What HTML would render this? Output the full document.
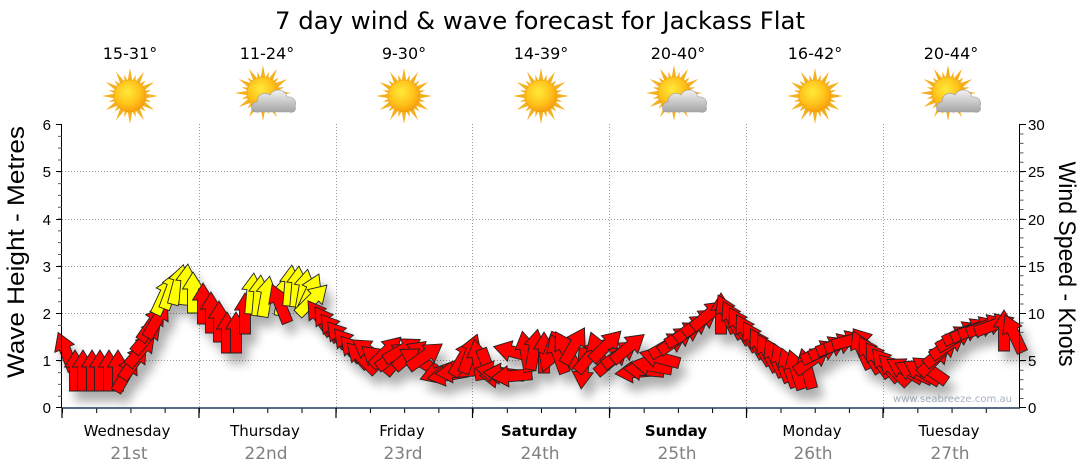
<!DOCTYPE html>
<html><head><meta charset="utf-8"><style>
html,body{margin:0;padding:0;background:#fff;}
svg{display:block;}
.r{fill:#ff0000;}
.y{fill:#ffff00;}
</style></head><body>
<svg width="1080" height="475" viewBox="0 0 1080 475" xmlns="http://www.w3.org/2000/svg">
<defs>
<path id="a" d="M0,-21 L10.5,-4 L5.5,-4 L5.5,20 L-5.5,20 L-5.5,-4 L-10.5,-4 Z"/>
<radialGradient id="sb" cx="0.42" cy="0.38" r="0.65">
<stop offset="0" stop-color="#ffea3a"/><stop offset="0.6" stop-color="#ffc21a"/><stop offset="1" stop-color="#f59a0a"/>
</radialGradient>
<linearGradient id="cg" x1="0" y1="0" x2="0" y2="1">
<stop offset="0" stop-color="#f2f2f2"/><stop offset="1" stop-color="#a4a4a4"/>
</linearGradient>
<g id="rays" fill="#f5b020">
<path d="M-2.6,-14 L0,-28 L2.6,-14 Z"/>
<path d="M-2.6,-14 L0,-28 L2.6,-14 Z" transform="rotate(30)"/>
<path d="M-2.6,-14 L0,-28 L2.6,-14 Z" transform="rotate(60)"/>
<path d="M-2.6,-14 L0,-28 L2.6,-14 Z" transform="rotate(90)"/>
<path d="M-2.6,-14 L0,-28 L2.6,-14 Z" transform="rotate(120)"/>
<path d="M-2.6,-14 L0,-28 L2.6,-14 Z" transform="rotate(150)"/>
<path d="M-2.6,-14 L0,-28 L2.6,-14 Z" transform="rotate(180)"/>
<path d="M-2.6,-14 L0,-28 L2.6,-14 Z" transform="rotate(210)"/>
<path d="M-2.6,-14 L0,-28 L2.6,-14 Z" transform="rotate(240)"/>
<path d="M-2.6,-14 L0,-28 L2.6,-14 Z" transform="rotate(270)"/>
<path d="M-2.6,-14 L0,-28 L2.6,-14 Z" transform="rotate(300)"/>
<path d="M-2.6,-14 L0,-28 L2.6,-14 Z" transform="rotate(330)"/>
<path d="M-2,-14 L0,-22 L2,-14 Z" transform="rotate(15)"/>
<path d="M-2,-14 L0,-22 L2,-14 Z" transform="rotate(45)"/>
<path d="M-2,-14 L0,-22 L2,-14 Z" transform="rotate(75)"/>
<path d="M-2,-14 L0,-22 L2,-14 Z" transform="rotate(105)"/>
<path d="M-2,-14 L0,-22 L2,-14 Z" transform="rotate(135)"/>
<path d="M-2,-14 L0,-22 L2,-14 Z" transform="rotate(165)"/>
<path d="M-2,-14 L0,-22 L2,-14 Z" transform="rotate(195)"/>
<path d="M-2,-14 L0,-22 L2,-14 Z" transform="rotate(225)"/>
<path d="M-2,-14 L0,-22 L2,-14 Z" transform="rotate(255)"/>
<path d="M-2,-14 L0,-22 L2,-14 Z" transform="rotate(285)"/>
<path d="M-2,-14 L0,-22 L2,-14 Z" transform="rotate(315)"/>
<path d="M-2,-14 L0,-22 L2,-14 Z" transform="rotate(345)"/>
</g>
<g id="sun">
<use href="#rays"/>
<circle r="16" fill="url(#sb)" stroke="#f0a010" stroke-width="0.6"/>
</g>
<g id="cloud" fill="url(#cg)">
<path d="M-12,15 C-17,15 -17,5 -10,5 C-10,-3 -2,-6 3,-2 C6,-9 18,-9 20,0 C27,-1 30,5 28,9 C30,14 26,16 22,15 Z" stroke="#9a9a9a" stroke-width="0.6"/>
</g>
<filter id="sh" filterUnits="userSpaceOnUse" x="0" y="200" width="1080" height="275">
<feGaussianBlur in="SourceAlpha" stdDeviation="5"/>
<feOffset dx="6" dy="10"/>
<feComponentTransfer><feFuncA type="linear" slope="0.32"/></feComponentTransfer>
<feMerge><feMergeNode/><feMergeNode in="SourceGraphic"/></feMerge>
</filter>
</defs>

<!-- Title -->
<text x="540" y="29" text-anchor="middle" font-family="DejaVu Sans, sans-serif" font-size="24" fill="#000" textLength="530" lengthAdjust="spacingAndGlyphs">7 day wind &amp; wave forecast for Jackass Flat</text>

<!-- Temps -->
<g font-family="DejaVu Sans, sans-serif" font-size="16" fill="#000" text-anchor="middle">
<text x="130" y="59">15-31°</text>
<text x="267" y="59">11-24°</text>
<text x="404" y="59">9-30°</text>
<text x="541" y="59">14-39°</text>
<text x="678" y="59">20-40°</text>
<text x="815" y="59">16-42°</text>
<text x="951" y="59">20-44°</text>
</g>

<!-- Icons -->
<use href="#sun" transform="translate(130 96)"/>
<use href="#sun" transform="translate(263 93)"/>
<use href="#cloud" transform="translate(267 97)"/>
<use href="#sun" transform="translate(404 96)"/>
<use href="#sun" transform="translate(541 96)"/>
<use href="#sun" transform="translate(674 93)"/>
<use href="#cloud" transform="translate(678 97)"/>
<use href="#sun" transform="translate(815 96)"/>
<use href="#sun" transform="translate(948 93)"/>
<use href="#cloud" transform="translate(952 97)"/>

<!-- Grid -->
<g stroke="#9a9a9a" stroke-width="1" stroke-dasharray="1,2">
<line x1="62" y1="360.5" x2="1019" y2="360.5"/>
<line x1="62" y1="313.5" x2="1019" y2="313.5"/>
<line x1="62" y1="266.5" x2="1019" y2="266.5"/>
<line x1="62" y1="219.5" x2="1019" y2="219.5"/>
<line x1="62" y1="171.5" x2="1019" y2="171.5"/>
<line x1="199.5" y1="124" x2="199.5" y2="407"/>
<line x1="336.5" y1="124" x2="336.5" y2="407"/>
<line x1="472.5" y1="124" x2="472.5" y2="407"/>
<line x1="609.5" y1="124" x2="609.5" y2="407"/>
<line x1="746.5" y1="124" x2="746.5" y2="407"/>
<line x1="883.5" y1="124" x2="883.5" y2="407"/>
</g>

<!-- Watermark -->
<text x="893" y="402" font-family="DejaVu Sans, sans-serif" font-size="10" fill="#a8b0c0" textLength="119" lengthAdjust="spacingAndGlyphs">www.seabreeze.com.au</text>

<!-- Arrows -->
<g filter="url(#sh)" stroke="#222" stroke-width="0.9" stroke-linejoin="miter">
<use href="#a" class="r" transform="translate(66 352) rotate(-22)"/>
<use href="#a" class="r" transform="translate(75 371) rotate(0)"/>
<use href="#a" class="r" transform="translate(83 371) rotate(0)"/>
<use href="#a" class="r" transform="translate(92 371) rotate(0)"/>
<use href="#a" class="r" transform="translate(100 371) rotate(0)"/>
<use href="#a" class="r" transform="translate(109 371) rotate(0)"/>
<use href="#a" class="r" transform="translate(118 371) rotate(0)"/>
<use href="#a" class="r" transform="translate(126 374) rotate(30)"/>
<use href="#a" class="r" transform="translate(134 362) rotate(35)"/>
<use href="#a" class="r" transform="translate(141 350) rotate(40)"/>
<use href="#a" class="r" transform="translate(147 337) rotate(40)"/>
<use href="#a" class="r" transform="translate(152 324) rotate(35)"/>
<use href="#a" class="r" transform="translate(157 320) rotate(30)"/>
<use href="#a" class="y" transform="translate(164 296) rotate(25)"/>
<use href="#a" class="y" transform="translate(171 290) rotate(20)"/>
<use href="#a" class="y" transform="translate(178 285) rotate(15)"/>
<use href="#a" class="y" transform="translate(186 285) rotate(5)"/>
<use href="#a" class="y" transform="translate(193 293) rotate(0)"/>
<use href="#a" class="r" transform="translate(203 304) rotate(0)"/>
<use href="#a" class="r" transform="translate(211 313) rotate(0)"/>
<use href="#a" class="r" transform="translate(219 322) rotate(0)"/>
<use href="#a" class="r" transform="translate(227 333) rotate(0)"/>
<use href="#a" class="r" transform="translate(236 333) rotate(0)"/>
<use href="#a" class="r" transform="translate(245 314) rotate(0)"/>
<use href="#a" class="y" transform="translate(252 294) rotate(5)"/>
<use href="#a" class="y" transform="translate(259 296) rotate(5)"/>
<use href="#a" class="y" transform="translate(266 297) rotate(10)"/>
<use href="#a" class="y" transform="translate(283 296) rotate(10)"/>
<use href="#a" class="r" transform="translate(280 304) rotate(-22)"/>
<use href="#a" class="y" transform="translate(290 286) rotate(5)"/>
<use href="#a" class="y" transform="translate(297 287) rotate(5)"/>
<use href="#a" class="y" transform="translate(304 290) rotate(10)"/>
<use href="#a" class="y" transform="translate(310 293) rotate(25)"/>
<use href="#a" class="y" transform="translate(312 300) rotate(45)"/>
<use href="#a" class="r" transform="translate(320 318) rotate(-35)"/>
<use href="#a" class="r" transform="translate(327 324) rotate(-35)"/>
<use href="#a" class="r" transform="translate(334 331) rotate(-38)"/>
<use href="#a" class="r" transform="translate(341 338) rotate(-40)"/>
<use href="#a" class="r" transform="translate(348 345) rotate(-40)"/>
<use href="#a" class="r" transform="translate(355 352) rotate(-42)"/>
<use href="#a" class="r" transform="translate(362 358) rotate(-45)"/>
<!-- Friday -->
<use href="#a" class="r" transform="translate(370 352) rotate(-55)"/>
<use href="#a" class="r" transform="translate(378 360) rotate(-50)"/>
<use href="#a" class="r" transform="translate(386 352) rotate(45)"/>
<use href="#a" class="r" transform="translate(394 356) rotate(55)"/>
<use href="#a" class="r" transform="translate(402 350) rotate(60)"/>
<use href="#a" class="r" transform="translate(410 355) rotate(50)"/>
<use href="#a" class="r" transform="translate(418 360) rotate(-60)"/>
<use href="#a" class="r" transform="translate(425 356) rotate(55)"/>
<use href="#a" class="r" transform="translate(440 372) rotate(-110)"/>
<use href="#a" class="r" transform="translate(448 375) rotate(-100)"/>
<use href="#a" class="r" transform="translate(456 372) rotate(-95)"/>
<use href="#a" class="r" transform="translate(463 358) rotate(30)"/>
<use href="#a" class="r" transform="translate(470 354) rotate(20)"/>
<use href="#a" class="r" transform="translate(478 360) rotate(-10)"/>
<use href="#a" class="r" transform="translate(488 368) rotate(160)"/>
<use href="#a" class="r" transform="translate(496 372) rotate(-80)"/>
<use href="#a" class="r" transform="translate(504 374) rotate(-85)"/>
<use href="#a" class="r" transform="translate(512 376) rotate(-95)"/>
<use href="#a" class="r" transform="translate(514 352) rotate(-75)"/>
<!-- Saturday -->
<use href="#a" class="r" transform="translate(526 352) rotate(-10)"/>
<use href="#a" class="r" transform="translate(534 350) rotate(10)"/>
<use href="#a" class="r" transform="translate(544 353) rotate(0)"/>
<use href="#a" class="r" transform="translate(550 352) rotate(200)"/>
<use href="#a" class="r" transform="translate(558 354) rotate(-20)"/>
<use href="#a" class="r" transform="translate(566 350) rotate(-30)"/>
<use href="#a" class="r" transform="translate(574 346) rotate(30)"/>
<use href="#a" class="r" transform="translate(583 368) rotate(185)"/>
<use href="#a" class="r" transform="translate(590 356) rotate(40)"/>
<use href="#a" class="r" transform="translate(598 352) rotate(-20)"/>
<use href="#a" class="r" transform="translate(606 346) rotate(45)"/>
<!-- Sunday -->
<use href="#a" class="r" transform="translate(612 360) rotate(50)"/>
<use href="#a" class="r" transform="translate(620 354) rotate(55)"/>
<use href="#a" class="r" transform="translate(628 348) rotate(50)"/>
<use href="#a" class="r" transform="translate(636 372) rotate(-95)"/>
<use href="#a" class="r" transform="translate(644 370) rotate(-85)"/>
<use href="#a" class="r" transform="translate(652 366) rotate(-80)"/>
<use href="#a" class="r" transform="translate(660 358) rotate(-75)"/>
<use href="#a" class="r" transform="translate(668 345) rotate(60)"/>
<use href="#a" class="r" transform="translate(676 340) rotate(55)"/>
<use href="#a" class="r" transform="translate(684 334) rotate(60)"/>
<use href="#a" class="r" transform="translate(692 328) rotate(55)"/>
<use href="#a" class="r" transform="translate(700 322) rotate(55)"/>
<use href="#a" class="r" transform="translate(708 315) rotate(50)"/>
<use href="#a" class="r" transform="translate(721 314) rotate(0)"/>
<use href="#a" class="r" transform="translate(727 314) rotate(-25)"/>
<use href="#a" class="r" transform="translate(733 320) rotate(-28)"/>
<use href="#a" class="r" transform="translate(740 326) rotate(-30)"/>
<use href="#a" class="r" transform="translate(747 333) rotate(-30)"/>
<!-- Monday -->
<use href="#a" class="r" transform="translate(754 340) rotate(-30)"/>
<use href="#a" class="r" transform="translate(761 347) rotate(-30)"/>
<use href="#a" class="r" transform="translate(768 353) rotate(-28)"/>
<use href="#a" class="r" transform="translate(775 358) rotate(-25)"/>
<use href="#a" class="r" transform="translate(782 363) rotate(-22)"/>
<use href="#a" class="r" transform="translate(789 368) rotate(-20)"/>
<use href="#a" class="r" transform="translate(796 370) rotate(-18)"/>
<use href="#a" class="r" transform="translate(807 369) rotate(-15)"/>
<use href="#a" class="r" transform="translate(812 360) rotate(55)"/>
<use href="#a" class="r" transform="translate(820 352) rotate(65)"/>
<use href="#a" class="r" transform="translate(828 348) rotate(65)"/>
<use href="#a" class="r" transform="translate(836 345) rotate(70)"/>
<use href="#a" class="r" transform="translate(844 342) rotate(70)"/>
<use href="#a" class="r" transform="translate(852 340) rotate(75)"/>
<use href="#a" class="r" transform="translate(862 350) rotate(-25)"/>
<use href="#a" class="r" transform="translate(870 355) rotate(-30)"/>
<use href="#a" class="r" transform="translate(878 360) rotate(-35)"/>
<use href="#a" class="r" transform="translate(886 365) rotate(-40)"/>
<use href="#a" class="r" transform="translate(894 370) rotate(-45)"/>
<!-- Tuesday -->
<use href="#a" class="r" transform="translate(905 370) rotate(-60)"/>
<use href="#a" class="r" transform="translate(914 372) rotate(-65)"/>
<use href="#a" class="r" transform="translate(922 372) rotate(-60)"/>
<use href="#a" class="r" transform="translate(930 370) rotate(-55)"/>
<use href="#a" class="r" transform="translate(934 360) rotate(45)"/>
<use href="#a" class="r" transform="translate(941 352) rotate(50)"/>
<use href="#a" class="r" transform="translate(948 345) rotate(55)"/>
<use href="#a" class="r" transform="translate(955 338) rotate(60)"/>
<use href="#a" class="r" transform="translate(962 333) rotate(65)"/>
<use href="#a" class="r" transform="translate(970 330) rotate(65)"/>
<use href="#a" class="r" transform="translate(978 328) rotate(70)"/>
<use href="#a" class="r" transform="translate(986 326) rotate(70)"/>
<use href="#a" class="r" transform="translate(994 325) rotate(70)"/>
<use href="#a" class="r" transform="translate(1004 331) rotate(0)"/>
<use href="#a" class="r" transform="translate(1014 334) rotate(-25)"/>
</g>

<!-- Left axis -->
<line x1="61.5" y1="124" x2="61.5" y2="408" stroke="#000" stroke-width="1"/>
<line x1="60" y1="124" x2="60" y2="408" stroke="#555" stroke-width="4" stroke-dasharray="1 10.8125"/>
<g stroke="#000" stroke-width="1">
<line x1="56" y1="124.5" x2="62" y2="124.5"/>
<line x1="56" y1="171.5" x2="62" y2="171.5"/>
<line x1="56" y1="219.5" x2="62" y2="219.5"/>
<line x1="56" y1="266.5" x2="62" y2="266.5"/>
<line x1="56" y1="313.5" x2="62" y2="313.5"/>
<line x1="56" y1="360.5" x2="62" y2="360.5"/>
<line x1="56" y1="407.5" x2="62" y2="407.5"/>
</g>
<g font-family="Liberation Sans, sans-serif" font-size="15" fill="#000" text-anchor="end">
<text x="51" y="130">6</text>
<text x="51" y="177">5</text>
<text x="51" y="225">4</text>
<text x="51" y="272">3</text>
<text x="51" y="319">2</text>
<text x="51" y="366">1</text>
<text x="51" y="413">0</text>
</g>
<text transform="translate(24 252) rotate(-90)" text-anchor="middle" font-family="Liberation Sans, sans-serif" font-size="24" fill="#000" textLength="252" lengthAdjust="spacingAndGlyphs">Wave Height - Metres</text>

<!-- Right axis -->
<line x1="1019.5" y1="124" x2="1019.5" y2="408" stroke="#000" stroke-width="1"/>
<line x1="1021.5" y1="124" x2="1021.5" y2="408" stroke="#555" stroke-width="4" stroke-dasharray="1 8.45"/>
<g stroke="#000" stroke-width="1">
<line x1="1019" y1="124.5" x2="1026" y2="124.5"/>
<line x1="1019" y1="171.5" x2="1026" y2="171.5"/>
<line x1="1019" y1="219.5" x2="1026" y2="219.5"/>
<line x1="1019" y1="266.5" x2="1026" y2="266.5"/>
<line x1="1019" y1="313.5" x2="1026" y2="313.5"/>
<line x1="1019" y1="360.5" x2="1026" y2="360.5"/>
<line x1="1019" y1="407.5" x2="1026" y2="407.5"/>
</g>
<g font-family="Liberation Sans, sans-serif" font-size="15" fill="#000" text-anchor="start">
<text x="1028" y="130">30</text>
<text x="1028" y="177">25</text>
<text x="1028" y="225">20</text>
<text x="1028" y="272">15</text>
<text x="1028" y="319">10</text>
<text x="1028" y="366">5</text>
<text x="1028" y="413">0</text>
</g>
<text transform="translate(1059 264) rotate(90)" text-anchor="middle" font-family="Liberation Sans, sans-serif" font-size="24" fill="#000" textLength="205" lengthAdjust="spacingAndGlyphs">Wind Speed - Knots</text>

<!-- Bottom axis -->
<line x1="62" y1="410.5" x2="1020" y2="410.5" stroke="#000" stroke-width="5" stroke-dasharray="1 33.214"/>
<line x1="61.5" y1="408" x2="1020" y2="408" stroke="#1e3c5c" stroke-width="1.5"/>
<g stroke="#000" stroke-width="1.2">
<line x1="62" y1="408" x2="62" y2="418"/>
<line x1="199" y1="408" x2="199" y2="418"/>
<line x1="336" y1="408" x2="336" y2="418"/>
<line x1="472.5" y1="408" x2="472.5" y2="418"/>
<line x1="609.5" y1="408" x2="609.5" y2="418"/>
<line x1="746.5" y1="408" x2="746.5" y2="418"/>
<line x1="883" y1="408" x2="883" y2="418"/>
</g>

<!-- Day labels -->
<g font-family="DejaVu Sans, sans-serif" font-size="15" fill="#000" text-anchor="middle">
<text x="127" y="436">Wednesday</text>
<text x="265" y="436">Thursday</text>
<text x="402" y="436">Friday</text>
<text x="539" y="436" font-weight="bold">Saturday</text>
<text x="676" y="436" font-weight="bold">Sunday</text>
<text x="812" y="436">Monday</text>
<text x="949" y="436">Tuesday</text>
</g>
<g font-family="DejaVu Sans, sans-serif" font-size="17" fill="#808080" text-anchor="middle">
<text x="129" y="459">21st</text>
<text x="266" y="459">22nd</text>
<text x="403" y="459">23rd</text>
<text x="540" y="459">24th</text>
<text x="677" y="459">25th</text>
<text x="813" y="459">26th</text>
<text x="950" y="459">27th</text>
</g>
</svg>
</body></html>
